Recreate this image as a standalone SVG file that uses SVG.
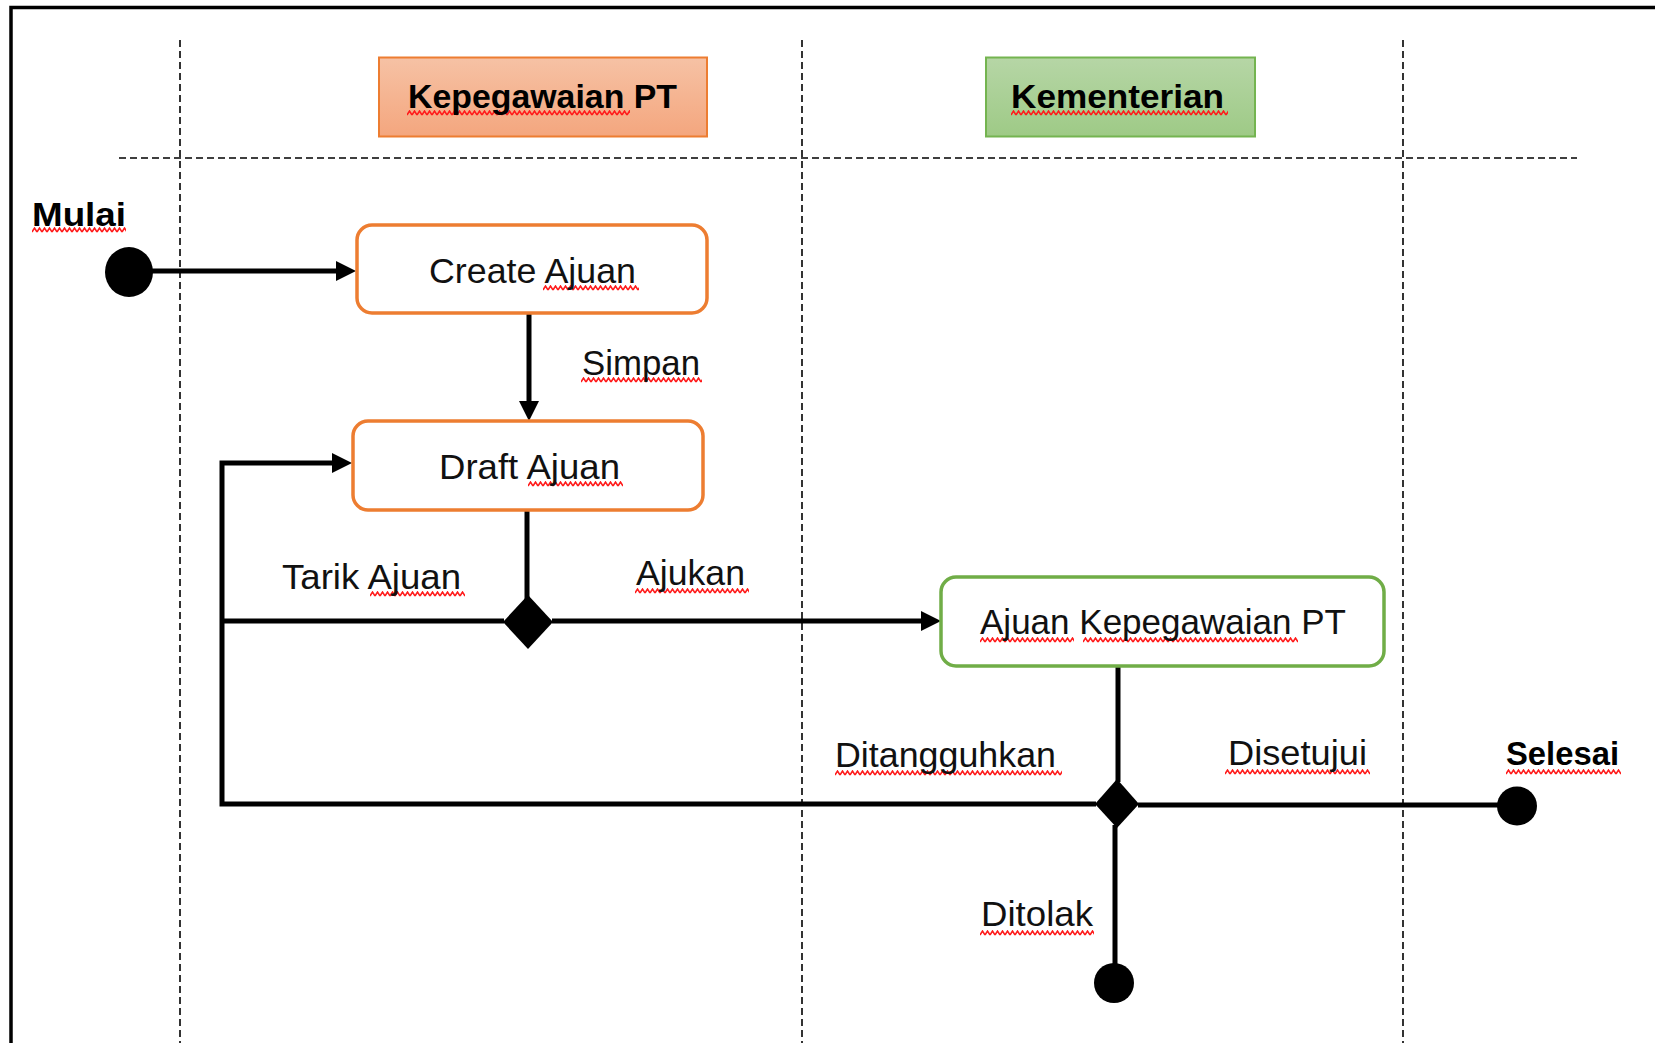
<svg xmlns="http://www.w3.org/2000/svg" width="1655" height="1043" viewBox="0 0 1655 1043">
<style>
.lbl{font-family:"Liberation Sans",Arial,sans-serif;font-size:35px;fill:#111}
.bold{font-family:"Liberation Sans",Arial,sans-serif;font-size:33px;font-weight:bold;fill:#000}
.dash{stroke:#000;stroke-width:1.6;stroke-dasharray:7 4;fill:none}
.conn{stroke:#000;stroke-width:5;fill:none}
.box{fill:#fff;stroke-width:3.5}
.sq{fill:url(#sq)}
</style>
<defs>
<pattern id="sq" width="5" height="6" patternUnits="userSpaceOnUse">
<path d="M0 5 L2.5 1 L5 5" stroke="#FF1A1A" stroke-width="1.5" fill="none"/>
</pattern>
<linearGradient id="gOr" x1="0" y1="0" x2="0" y2="1">
<stop offset="0" stop-color="#F6C2A5"/>
<stop offset="1" stop-color="#F4A67E"/>
</linearGradient>
<linearGradient id="gGr" x1="0" y1="0" x2="0" y2="1">
<stop offset="0" stop-color="#B6D6A6"/>
<stop offset="1" stop-color="#9ECA86"/>
</linearGradient>
<marker id="arr" viewBox="0 0 20 20" refX="8" refY="10" markerWidth="20" markerHeight="20" markerUnits="userSpaceOnUse" orient="auto">
<path d="M0,0 L20,10 L0,20 z" fill="#000"/>
</marker>
</defs>
<rect x="0" y="0" width="1655" height="1043" fill="#fff"/>
<rect x="11" y="7.5" width="1700" height="1100" fill="none" stroke="#000" stroke-width="3.5"/>

<g id="swimlanes">
<line class="dash" x1="180" y1="40" x2="180" y2="1043"/>
<line class="dash" x1="802" y1="40" x2="802" y2="1043"/>
<line class="dash" x1="1403" y1="40" x2="1403" y2="1043"/>
<line class="dash" x1="119" y1="158" x2="1577" y2="158"/>
</g>

<g id="lane-kepegawaian">
<rect x="379" y="57.5" width="328" height="79" fill="url(#gOr)" stroke="#ED7D31" stroke-width="2"/>
<rect class="sq" transform="translate(407,110)" width="223" height="6"/>
<text class="bold" x="408" y="108" textLength="269" lengthAdjust="spacingAndGlyphs">Kepegawaian PT</text>
</g>
<g id="lane-kementerian">
<rect x="986" y="57.5" width="269" height="79" fill="url(#gGr)" stroke="#74B450" stroke-width="2"/>
<rect class="sq" transform="translate(1011,110)" width="217" height="6"/>
<text class="bold" x="1011" y="108" textLength="213" lengthAdjust="spacingAndGlyphs">Kementerian</text>
</g>

<g id="connectors">
<path class="conn" d="M129,271 H344" marker-end="url(#arr)"/>
<path class="conn" d="M529,313 V409" marker-end="url(#arr)"/>
<path class="conn" d="M527,510 V600"/>
<path class="conn" d="M504,621 H222"/>
<path class="conn" d="M552,621 H929" marker-end="url(#arr)"/>
<path class="conn" d="M1096,804 H222 V463 H340" marker-end="url(#arr)"/>
<path class="conn" d="M1118,666 V782"/>
<path class="conn" d="M1138,805 H1517"/>
<path class="conn" d="M1115,825 V983"/>
</g>

<g id="start">
<rect class="sq" transform="translate(32,227)" width="94" height="6"/>
<text class="bold" x="32" y="226" textLength="94" lengthAdjust="spacingAndGlyphs">Mulai</text>
<ellipse cx="129" cy="272" rx="24" ry="25" fill="#000"/>
</g>

<g id="create-ajuan">
<rect class="box" x="357" y="225" width="350" height="88" rx="15" stroke="#ED7D31"/>
<rect class="sq" transform="translate(543,285)" width="96" height="6"/>
<text class="lbl" x="429" y="283" textLength="207" lengthAdjust="spacingAndGlyphs">Create Ajuan</text>
</g>

<g id="label-simpan">
<rect class="sq" transform="translate(581,377)" width="121" height="6"/>
<text class="lbl" x="582" y="375" textLength="118" lengthAdjust="spacingAndGlyphs">Simpan</text>
</g>

<g id="draft-ajuan">
<rect class="box" x="353" y="421" width="350" height="89" rx="15" stroke="#ED7D31"/>
<rect class="sq" transform="translate(528,481)" width="95" height="6"/>
<text class="lbl" x="439" y="479" textLength="181" lengthAdjust="spacingAndGlyphs">Draft Ajuan</text>
</g>

<g id="decision-1">
<path d="M528,595 L553,622 L528,649 L503,622 z" fill="#000"/>
</g>

<g id="label-tarik">
<rect class="sq" transform="translate(370,591)" width="95" height="6"/>
<text class="lbl" x="282" y="589" textLength="179" lengthAdjust="spacingAndGlyphs">Tarik Ajuan</text>
</g>
<g id="label-ajukan">
<rect class="sq" transform="translate(635,588)" width="114" height="6"/>
<text class="lbl" x="636" y="585" textLength="109" lengthAdjust="spacingAndGlyphs">Ajukan</text>
</g>

<g id="ajuan-kepegawaian">
<rect class="box" x="941" y="577" width="443" height="89" rx="15" stroke="#70AD47"/>
<rect class="sq" transform="translate(980,637)" width="94" height="6"/>
<rect class="sq" transform="translate(1083,637)" width="215" height="6"/>
<text class="lbl" x="980" y="634" textLength="366" lengthAdjust="spacingAndGlyphs">Ajuan Kepegawaian PT</text>
</g>

<g id="decision-2">
<path d="M1117,779 L1139,804 L1117,828 L1095,804 z" fill="#000"/>
</g>

<g id="label-ditangguhkan">
<rect class="sq" transform="translate(835,770)" width="227" height="6"/>
<text class="lbl" x="835" y="767" textLength="221" lengthAdjust="spacingAndGlyphs">Ditangguhkan</text>
</g>
<g id="label-disetujui">
<rect class="sq" transform="translate(1225,769)" width="145" height="6"/>
<text class="lbl" x="1228" y="765" textLength="139" lengthAdjust="spacingAndGlyphs">Disetujui</text>
</g>

<g id="end-selesai">
<rect class="sq" transform="translate(1506,769)" width="115" height="6"/>
<text class="bold" x="1506" y="765" textLength="113" lengthAdjust="spacingAndGlyphs">Selesai</text>
<ellipse cx="1517" cy="806" rx="20" ry="19.5" fill="#000"/>
</g>

<g id="end-ditolak">
<rect class="sq" transform="translate(980,930)" width="114" height="6"/>
<text class="lbl" x="981" y="926" textLength="112" lengthAdjust="spacingAndGlyphs">Ditolak</text>
<ellipse cx="1114" cy="983" rx="20" ry="20" fill="#000"/>
</g>
</svg>
